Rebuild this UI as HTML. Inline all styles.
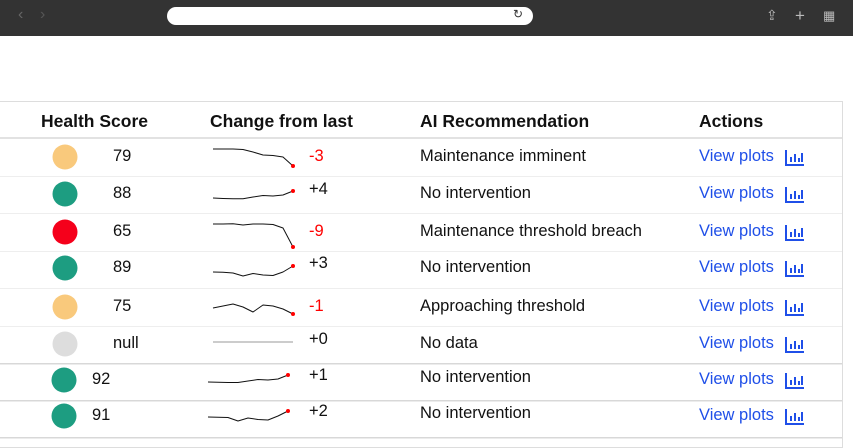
<!DOCTYPE html>
<html><head><meta charset="utf-8"><style>
body{margin:0;width:853px;height:444px;overflow:hidden;background:#fff;font-family:"Liberation Sans",sans-serif;position:relative}
.abs{position:absolute;white-space:nowrap}
.hdr{font-weight:bold;font-size:17.5px;color:#111;top:111px}
.txt{font-size:16.5px;color:#111}
.link{font-size:16.5px;color:#1f4fe8}
</style></head><body>
<div class="abs" style="left:0;top:0;width:853px;height:36px;background:#333"></div>
<div class="abs" style="left:18px;top:6px;color:#666;font-size:16px">‹</div>
<div class="abs" style="left:40px;top:6px;color:#555;font-size:16px">›</div>
<div class="abs" style="left:167px;top:7px;width:366px;height:18px;background:#fff;border-radius:9px"></div>
<div class="abs" style="left:513px;top:7px;font-size:12px;color:#333">↻</div>
<div class="abs" style="left:766px;top:7px;font-size:14px;color:#bbb">⇪</div>
<div class="abs" style="left:795px;top:6px;font-size:17px;color:#bbb">+</div>
<div class="abs" style="left:823px;top:8px;font-size:13px;color:#bbb">▦</div>
<div class="abs" style="left:-2px;top:101px;width:843px;height:345px;border:1px solid #ddd"></div>
<div class="abs" style="left:0;top:137px;width:842px;height:2px;background:#e2e2e2"></div>
<div class="abs hdr" style="left:41px">Health Score</div>
<div class="abs hdr" style="left:210px">Change from last</div>
<div class="abs hdr" style="left:420px">AI Recommendation</div>
<div class="abs hdr" style="left:699px">Actions</div>
<svg id="spark" class="abs" style="left:0;top:0" width="853" height="444"></svg>
<script>
const scores=["79","88","65","89","75","null","92","91"];
const colors=["#f9c97c","#1d9d81","#f5001b","#1d9d81","#f9c97c","#dddddd","#1d9d81","#1d9d81"];
const changes=["-3","+4","-9","+3","-1","+0","+1","+2"];
const recs=["Maintenance imminent","No intervention","Maintenance threshold breach","No intervention","Approaching threshold","No data","No intervention","No intervention"];
const trend1=[9,9,9,8.5,6,3,2.5,1,-8];
const trend2=[-3,-3.5,-3.8,-3.8,-2,-0.5,-1,0,4];
const trend3=[9,9,9.2,8,9,9,8.5,5,-14];
const trend4=[-3,-3.3,-4,-7,-4.5,-6,-6.5,-3,3];
const trend5=[0,2,4,1,-4,3,2,-1,-6];
const trend6=[3,3,3,3,3,3,3,3,3];
const trend7=[-1,-1.3,-1.5,-1.5,0,1.5,1,2,6];
const trend8=[0,-0.3,-0.5,-4,-1,-2.5,-3,1,6];
const trends=[trend1,trend2,trend3,trend4,trend5,trend6,trend7,trend8];
const rowC=[158,195,233,269,308,345,381,417];
const rowB=[176,213,251,288,326,363,400,437];
const NS="http://www.w3.org/2000/svg";
const svg=document.getElementById('spark');
function yS(r,v){return rowC[r]-v;}
function xS(r,i,n){const x0=r>=6?208:213;return x0+i*80/(n-1);}
for(let r=0;r<8;r++){
  const ln=document.createElementNS(NS,'rect');
  ln.setAttribute('x',0);ln.setAttribute('y',rowB[r]);ln.setAttribute('width',842);ln.setAttribute('height',r>=5?1.5:1);ln.setAttribute('fill',r>=5?'#d8d8d8':'#eeeeee');
  
  
  svg.appendChild(ln);
  const c=document.createElementNS(NS,'circle');
  c.setAttribute('cx',r>=6?64:65);c.setAttribute('cy',rowC[r]-1);c.setAttribute('r',12.5);c.setAttribute('fill',colors[r]);
  
  
  svg.appendChild(c);
  const t=trends[r];let d='';
  t.forEach((v,i)=>{d+=(i?'L':'M')+xS(r,i,t.length).toFixed(1)+','+yS(r,v).toFixed(1);});
  const p=document.createElementNS(NS,'path');
  p.setAttribute('d',d);p.setAttribute('fill','none');p.setAttribute('stroke',r==5?'#999':'#111');p.setAttribute('stroke-width',1);p.setAttribute('stroke-linejoin','round');
  
  
  svg.appendChild(p);
  if(r!=5){
    const e=document.createElementNS(NS,'circle');
    e.setAttribute('cx',xS(r,t.length-1,t.length));e.setAttribute('cy',yS(r,t[t.length-1]));e.setAttribute('r',2);e.setAttribute('fill','#f00');
    
    
    svg.appendChild(e);
  }
  const top=rowC[r]-11;
  const s=document.createElement('div');s.className='abs txt';s.style.left=(r>=6?92:113)+'px';s.style.top=top+'px';s.textContent=scores[r];
  
  
  document.body.appendChild(s);
  const ch=document.createElement('div');ch.className='abs txt';ch.style.left='309px';ch.style.top=(top-(r==0||r==2?0:(r==4?0:4)))+'px';ch.style.color=changes[r][0]=='-'?'#f00':'#111';ch.textContent=changes[r];
  
  
  document.body.appendChild(ch);
  const rc=document.createElement('div');rc.className='abs txt';rc.style.left='420px';rc.style.top=(top-(r>=6?2:0))+'px';rc.textContent=recs[r];
  
  
  document.body.appendChild(rc);
  const a=document.createElement('div');a.className='abs link';a.style.left='699px';a.style.top=top+'px';a.textContent='View plots';
  
  
  document.body.appendChild(a);
  const ic=document.createElementNS(NS,'path');
  const iy=rowC[r]-8;
  ic.setAttribute('d',`M786,${iy}V${iy+15}H804 M791,${iy+12}V${iy+7} M795,${iy+12}V${iy+4} M799,${iy+12}V${iy+8} M802,${iy+12}V${iy+3}`);
  ic.setAttribute('stroke','#1f4fe8');ic.setAttribute('stroke-width',2);ic.setAttribute('fill','none');
  
  
  svg.appendChild(ic);
}
</script>
</body></html>
